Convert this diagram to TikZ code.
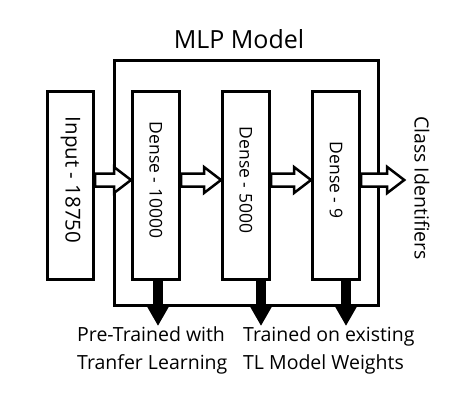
\documentclass[tikz,border=0pt]{standalone}
\usepackage{fontspec}
\setmainfont{Open Sans}
\usetikzlibrary{arrows.meta,positioning,calc}

% hollow block arrow from #1 to the tip #2 (at the height of #1)
\newcommand{\flowarrow}[2]{%
  \draw[hollow] let \p1=(#1), \p2=(#2) in
    (\x1,\y1+6.5pt) -- (\x2-17pt,\y1+6.5pt) -- (\x2-17pt,\y1+13pt) -- (\x2,\y1)
    -- (\x2-17pt,\y1-13pt) -- (\x2-17pt,\y1-6.5pt) -- (\x1,\y1-6.5pt) -- cycle;}
% rotated layer caption, lifted a little above the box centre
\newcommand{\layertext}[1]{\raisebox{5pt}[\height][\depth]{\rotatebox{-90}{#1}}}

\begin{document}
\begin{tikzpicture}[
    x=1pt, y=-1pt,
    layer/.style={draw, line width=3pt, minimum width=47pt, minimum height=188pt,
                  inner sep=0pt, fill=white, font=\fontsize{17.5}{20}\selectfont},
    frame/.style={draw, line width=3pt, inner sep=0pt},
    hollow/.style={draw, line width=2.5pt, fill=white, line join=miter},
    weights/.style={line width=10pt, -{Triangle[length=20pt, width=21pt]}},
    note/.style={font=\fontsize{19.5}{28}\selectfont, align=left, inner sep=0pt},
    node distance=40pt,
]
\useasboundingbox (0,0) rectangle (461,400);

% --- outer MLP frame and title ---
\node[frame, minimum width=264pt, minimum height=244.5pt] (mlp) at (246,182.75) {};
\node[inner sep=0pt, above=10pt of mlp, xshift=-7pt,
      font=\fontsize{25}{30}\selectfont] (title) {MLP Model};

% --- layers ---
\node[layer, minimum width=46pt, font=\fontsize{20.5}{24}\selectfont] (input) at (70.5,185)
     {\layertext{Input - 18750}};
\node[layer, right=36pt of input] (dense1) {\layertext{Dense - 10000}};
\node[layer, right=of dense1]     (dense2) {\layertext{Dense - 5000}};
\node[layer, right=of dense2]     (dense3) {\layertext{Dense - 9}};

% --- output label ---
\node[inner sep=0pt, font=\fontsize{19.5}{24}\selectfont] (classes) at (422,188)
     {\rotatebox{-90}{Class Identifiers}};

% --- forward flow ---
\coordinate (flow) at (0,180);
\flowarrow{input.east |- flow}{dense1.west |- flow}
\flowarrow{dense1.east |- flow}{dense2.west |- flow}
\flowarrow{dense2.east |- flow}{dense3.west |- flow}
\flowarrow{dense3.east |- flow}{$(classes.west |- flow)+(-10pt,0)$}

% --- weight notes ---
\node[note, anchor=north west] (pretrained) at (77,326) {Pre-Trained with\\Tranfer Learning};
\node[note, anchor=north west] (trained)    at (243,326) {Trained on existing\\TL Model Weights};

\draw[weights] ([xshift=2pt]dense1.south)  -- ([xshift=2pt]dense1.south  |- pretrained.north);
\draw[weights] ([xshift=15pt]dense2.south) -- ([xshift=15pt]dense2.south |- trained.north);
\draw[weights] ([xshift=10pt]dense3.south) -- ([xshift=10pt]dense3.south |- trained.north);

\end{tikzpicture}
\end{document}
